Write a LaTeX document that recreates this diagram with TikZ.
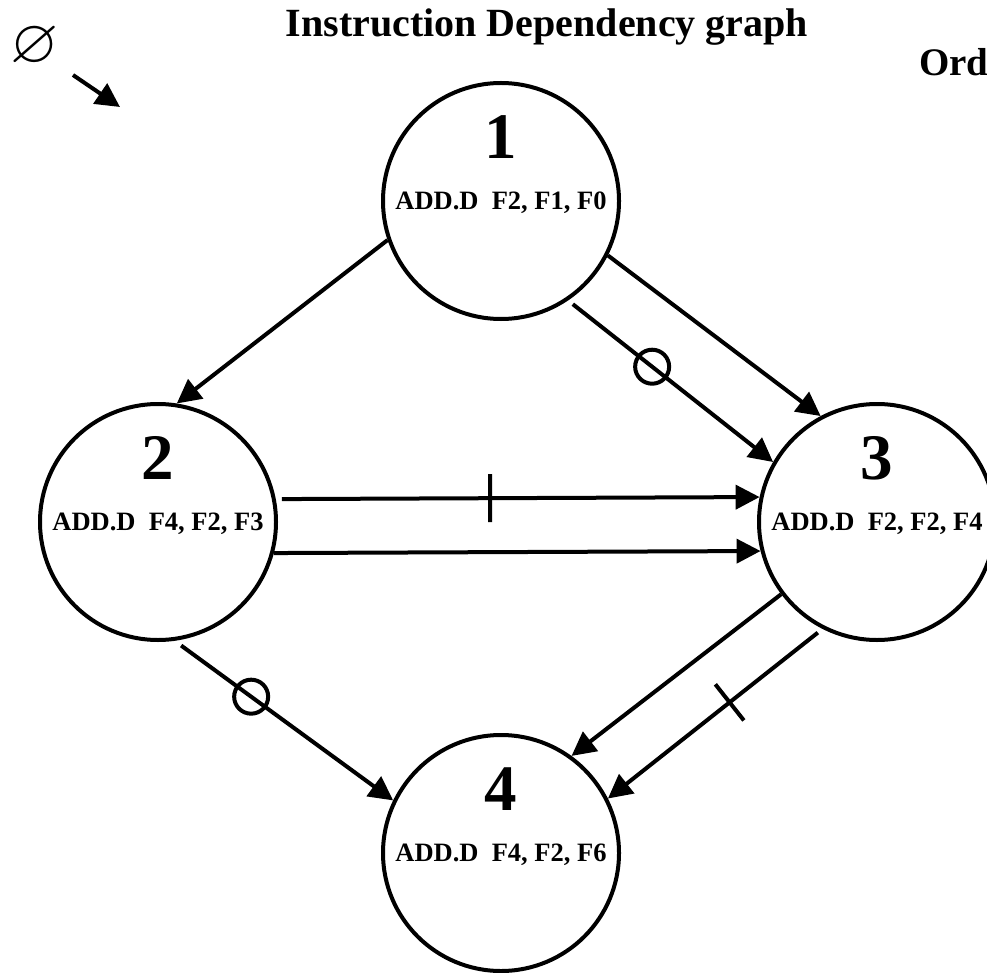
\documentclass[tikz,border=0pt]{standalone}
\usepackage{amssymb}
\usepackage{fontspec}
\setmainfont{Liberation Serif}
\usetikzlibrary{arrows.meta,
                calc,
                positioning}

\begin{document}
\begin{tikzpicture}[x=1pt, y=-1pt,
on grid,
line width=4pt,
every node/.style = {inner sep=0pt, font=\bfseries},
instr/.style = {circle, draw, minimum size=236pt},
num/.style = {font=\fontsize{65}{65}\selectfont\bfseries},
op/.style = {font=\fontsize{26.5}{26.5}\selectfont\bfseries, text depth=0pt},
ringmark/.style = {circle, draw, minimum size=34pt},
arr/.style = {-{Triangle[length=24pt,width=24pt]}}
                        ]
\useasboundingbox (0,0) rectangle (987,973);

\node (title) at (547,37) [anchor=base, font=\fontsize{40}{40}\selectfont\bfseries]
      {Instruction Dependency graph};
\node (ord) at (917,76) [anchor=base west, font=\fontsize{39}{39}\selectfont\bfseries] {Ord};
\node (empty) at (35,47) {\fontsize{62}{62}\selectfont$\varnothing$};
\coordinate (emptytail) at (73,75);
\coordinate (emptytip) at (120,107);

\node (n1) [instr] at (501,201) {};
\node (n2) [instr, below left=321pt and 343pt of n1] {};
\node (n3) [instr, below right=321pt and 376pt of n1] {};
\node (n4) [instr, below=652pt of n1] {};

\node (num1) [num, above=64pt of n1] {1};
\node (num2) [num, above=64pt of n2] {2};
\node (num3) [num, above=64pt of n3] {3};
\node (num4) [num, above=64pt of n4] {4};
\node (op1) [op] at (n1) {ADD.D\ \ F2, F1, F0};
\node (op2) [op] at (n2) {ADD.D\ \ F4, F2, F3};
\node (op3) [op] at (n3) {ADD.D\ \ F2, F2, F4};
\node (op4) [op] at (n4) {ADD.D\ \ F4, F2, F6};

\draw[arr]  (emptytail) -- (emptytip);
\draw[arr]  (n1.199.5) -- (n2.81);
\draw[arr]  (n1.333.4) -- (n3.118);
\draw[arr, shorten <=6pt]  (n1.304.3) -- node[ringmark, pos=.41] (r1) {} (n3.150.3);
\draw[arr, shorten <=6pt]  (n2.11.5) -- coordinate[pos=.443] (t1) (n3.168.5);
\draw[arr]  (n2.345.5) -- (n3.194.5);
\draw[arr, shorten <=8pt]  (n2.278.4) -- node[ringmark, pos=.35] (r2) {} (n4.154.1);
\draw[arr]  (n3.217.3) -- (n4.54.2);
\draw[arr, shorten <=6pt]  (n3.243.4) -- coordinate[pos=.433] (t2) (n4.27);

\draw ($(t1)!24pt!90:(n3.168.5)$) -- ($(t1)!24pt!-90:(n3.168.5)$);
\draw ($(t2)!23pt!90:(n4.27)$) -- ($(t2)!23pt!-90:(n4.27)$);
\end{tikzpicture}
\end{document}
